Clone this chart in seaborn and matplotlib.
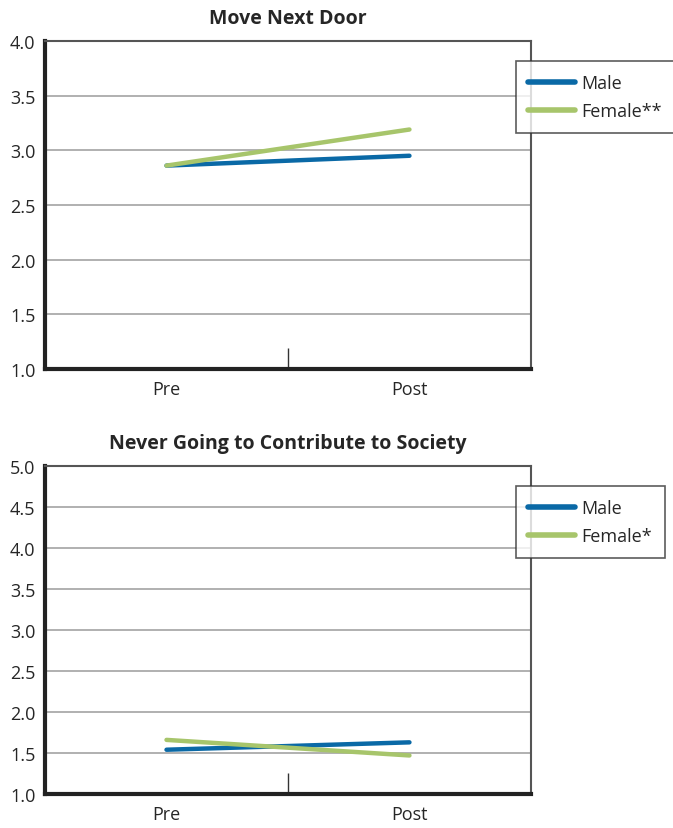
import pandas as pd
import matplotlib.pyplot as plt
import seaborn as sns
from matplotlib.ticker import FixedLocator

# valori
fasi = ['Pre', 'Post']
maschi_vicino = [2.86, 2.95]
femmine_vicino = [2.86, 3.19]
maschi_societa = [1.54, 1.63]
femmine_societa = [1.66, 1.47]

titoli = ['Move Next Door', 'Never Going to Contribute to Society']
etichette_f = ['Female**', 'Female*']
limiti_y = [(1.0, 4.0), (1.0, 5.0)]

sns.set_style('white')
plt.rcParams['font.family'] = ['Open Sans', 'DejaVu Sans']

blu = '#0a69a6'
verde = '#a7c56b'

fig = plt.figure(figsize=(6.73, 8.29), dpi=100)
ax1 = fig.add_axes([0.0669, 0.5537, 0.722, 0.3957])
ax2 = fig.add_axes([0.0669, 0.041, 0.722, 0.3957])

serie = [(maschi_vicino, femmine_vicino), (maschi_societa, femmine_societa)]

for i, ax in enumerate([ax1, ax2]):
    m, f = serie[i]
    df = pd.DataFrame({
        'fase': fasi + fasi,
        'valore': m + f,
        'gruppo': ['Male'] * 2 + [etichette_f[i]] * 2,
    })
    sns.lineplot(data=df, x='fase', y='valore', hue='gruppo', sort=False,
                 palette={'Male': blu, etichette_f[i]: verde},
                 linewidth=3.2, ax=ax, solid_capstyle='round')
    lo, hi = limiti_y[i]
    ax.set_xlim(-0.5, 1.5)
    ax.set_ylim(lo, hi)
    yt = [lo + 0.5 * k for k in range(int((hi - lo) / 0.5) + 1)]
    ax.set_yticks(yt)
    ax.set_yticklabels([f'{v:.1f}' for v in yt])
    ax.grid(axis='y', color='#b0b0b0', linewidth=1.4)
    ax.set_axisbelow(True)
    ax.set_xlabel('')
    ax.set_ylabel('')
    ax.set_title(titoli[i], fontsize=14, fontweight='bold', pad=13)
    ax.tick_params(axis='both', which='major', length=0, labelsize=13)
    ax.tick_params(axis='x', which='major', pad=8)
    ax.tick_params(axis='y', which='major', pad=7)
    ax.xaxis.set_minor_locator(FixedLocator([0.5]))
    ax.tick_params(axis='x', which='minor', bottom=True, direction='in',
                   length=15, width=1, color='#333333')
    for s in ['left', 'bottom']:
        ax.spines[s].set_linewidth(3)
        ax.spines[s].set_color('#222222')
    for s in ['top', 'right']:
        ax.spines[s].set_linewidth(1.5)
        ax.spines[s].set_color('#555555')
    leg = ax.legend(loc='upper left', bbox_to_anchor=(0.95, 0.965), fontsize=13,
                    frameon=True, fancybox=False, handlelength=2.6,
                    borderpad=0.7, labelspacing=0.55, handletextpad=0.35)
    leg.get_frame().set_edgecolor('#333333')
    leg.get_frame().set_linewidth(1.2)
    for ln in leg.get_lines():
        ln.set_linewidth(4)
        ln.set_solid_capstyle('round')

fig.savefig('out.png', dpi=100)
